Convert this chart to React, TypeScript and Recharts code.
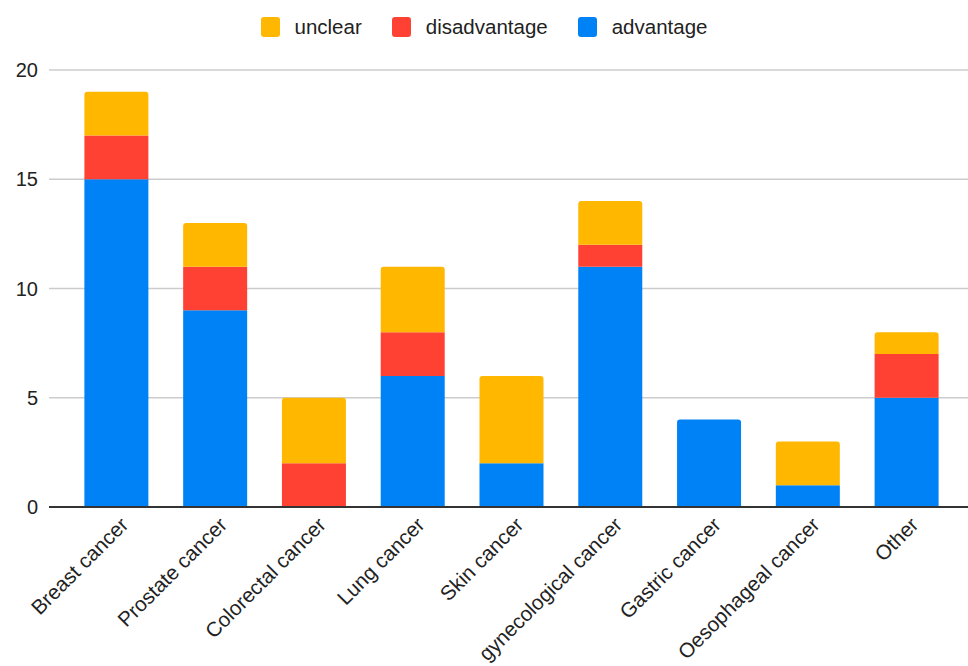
import React from 'react'
import {
  BarChart,
  Bar,
  XAxis,
  YAxis,
  CartesianGrid,
  Legend,
  Rectangle,
} from 'recharts'

const categories = [
  'Breast cancer',
  'Prostate cancer',
  'Colorectal cancer',
  'Lung cancer',
  'Skin cancer',
  'gynecological cancer',
  'Gastric cancer',
  'Oesophageal cancer',
  'Other',
]
const advantage = [15, 9, 0, 6, 2, 11, 4, 1, 5]
const disadvantage = [2, 2, 2, 2, 0, 1, 0, 0, 2]
const unclear = [2, 2, 3, 3, 4, 2, 0, 2, 1]
const yTicks = [0, 5, 10, 15, 20]

const FONT = '"Liberation Sans", Arial, sans-serif'

// stacking order bottom -> top
const SERIES = [
  { key: 'advantage', color: '#0082F7' },
  { key: 'disadvantage', color: '#FF4133' },
  { key: 'unclear', color: '#FFB700' },
]

const data = categories.map((name, i) => ({
  name,
  advantage: advantage[i],
  disadvantage: disadvantage[i],
  unclear: unclear[i],
}))

// which series ends up on top of each stack (gets the rounded corners)
const topKey = data.map((d: any) => {
  for (let s = SERIES.length - 1; s >= 0; s--) {
    if (d[SERIES[s].key] > 0) return SERIES[s].key
  }
  return ''
})

const makeShape = (key: string) => (props: any) => (
  <Rectangle
    {...props}
    radius={topKey[props.index] === key ? [3, 3, 0, 0] : 0}
  />
)

const AngledTick = ({ x, y, payload }: any) => (
  <text
    x={x + 8}
    y={y + 6}
    transform={`rotate(-45, ${x + 8}, ${y + 6})`}
    textAnchor="end"
    dy="0.35em"
    fill="#222"
    fontSize={20.6}
    fontFamily={FONT}
  >
    {payload.value}
  </text>
)

const LegendContent = () => (
  <div
    style={{
      height: 70,
      display: 'flex',
      justifyContent: 'center',
      alignItems: 'flex-start',
      paddingTop: 15,
      boxSizing: 'border-box',
      fontFamily: FONT,
      fontSize: 20.5,
      color: '#222',
    }}
  >
    {[...SERIES].reverse().map((s) => (
      <div
        key={s.key}
        style={{ display: 'flex', alignItems: 'center', margin: '0 15px' }}
      >
        <span
          style={{
            width: 19,
            height: 20,
            borderRadius: 3,
            background: s.color,
            marginRight: 15,
            display: 'inline-block',
          }}
        />
        <span>{s.key}</span>
      </div>
    ))}
  </div>
)

const App: React.FC = () => {
  return (
    <div style={{ position: 'absolute', left: 0, top: 0, background: '#fff' }}>
      <BarChart
        width={968}
        height={666}
        data={data}
        margin={{ top: 0, right: 0, bottom: 0, left: 0 }}
        barCategoryGap="17.6%"
      >
        <CartesianGrid vertical={false} stroke="#cccccc" strokeWidth={1.5} />
        <Legend
          verticalAlign="top"
          align="center"
          content={<LegendContent />}
        />
        <XAxis
          dataKey="name"
          interval={0}
          height={159}
          padding={{ left: 18, right: 12 }}
          tickLine={false}
          axisLine={{ stroke: '#333', strokeWidth: 2 }}
          tick={<AngledTick />}
        />
        <YAxis
          width={49}
          domain={[0, 20]}
          ticks={yTicks}
          axisLine={false}
          tickLine={false}
          tickMargin={5}
          tick={{ fill: '#222', fontSize: 20, fontFamily: FONT }}
        />
        {SERIES.map((s) => (
          <Bar
            key={s.key}
            dataKey={s.key}
            stackId="a"
            fill={s.color}
            isAnimationActive={false}
            shape={makeShape(s.key)}
          />
        ))}
      </BarChart>
    </div>
  )
}

export default App
